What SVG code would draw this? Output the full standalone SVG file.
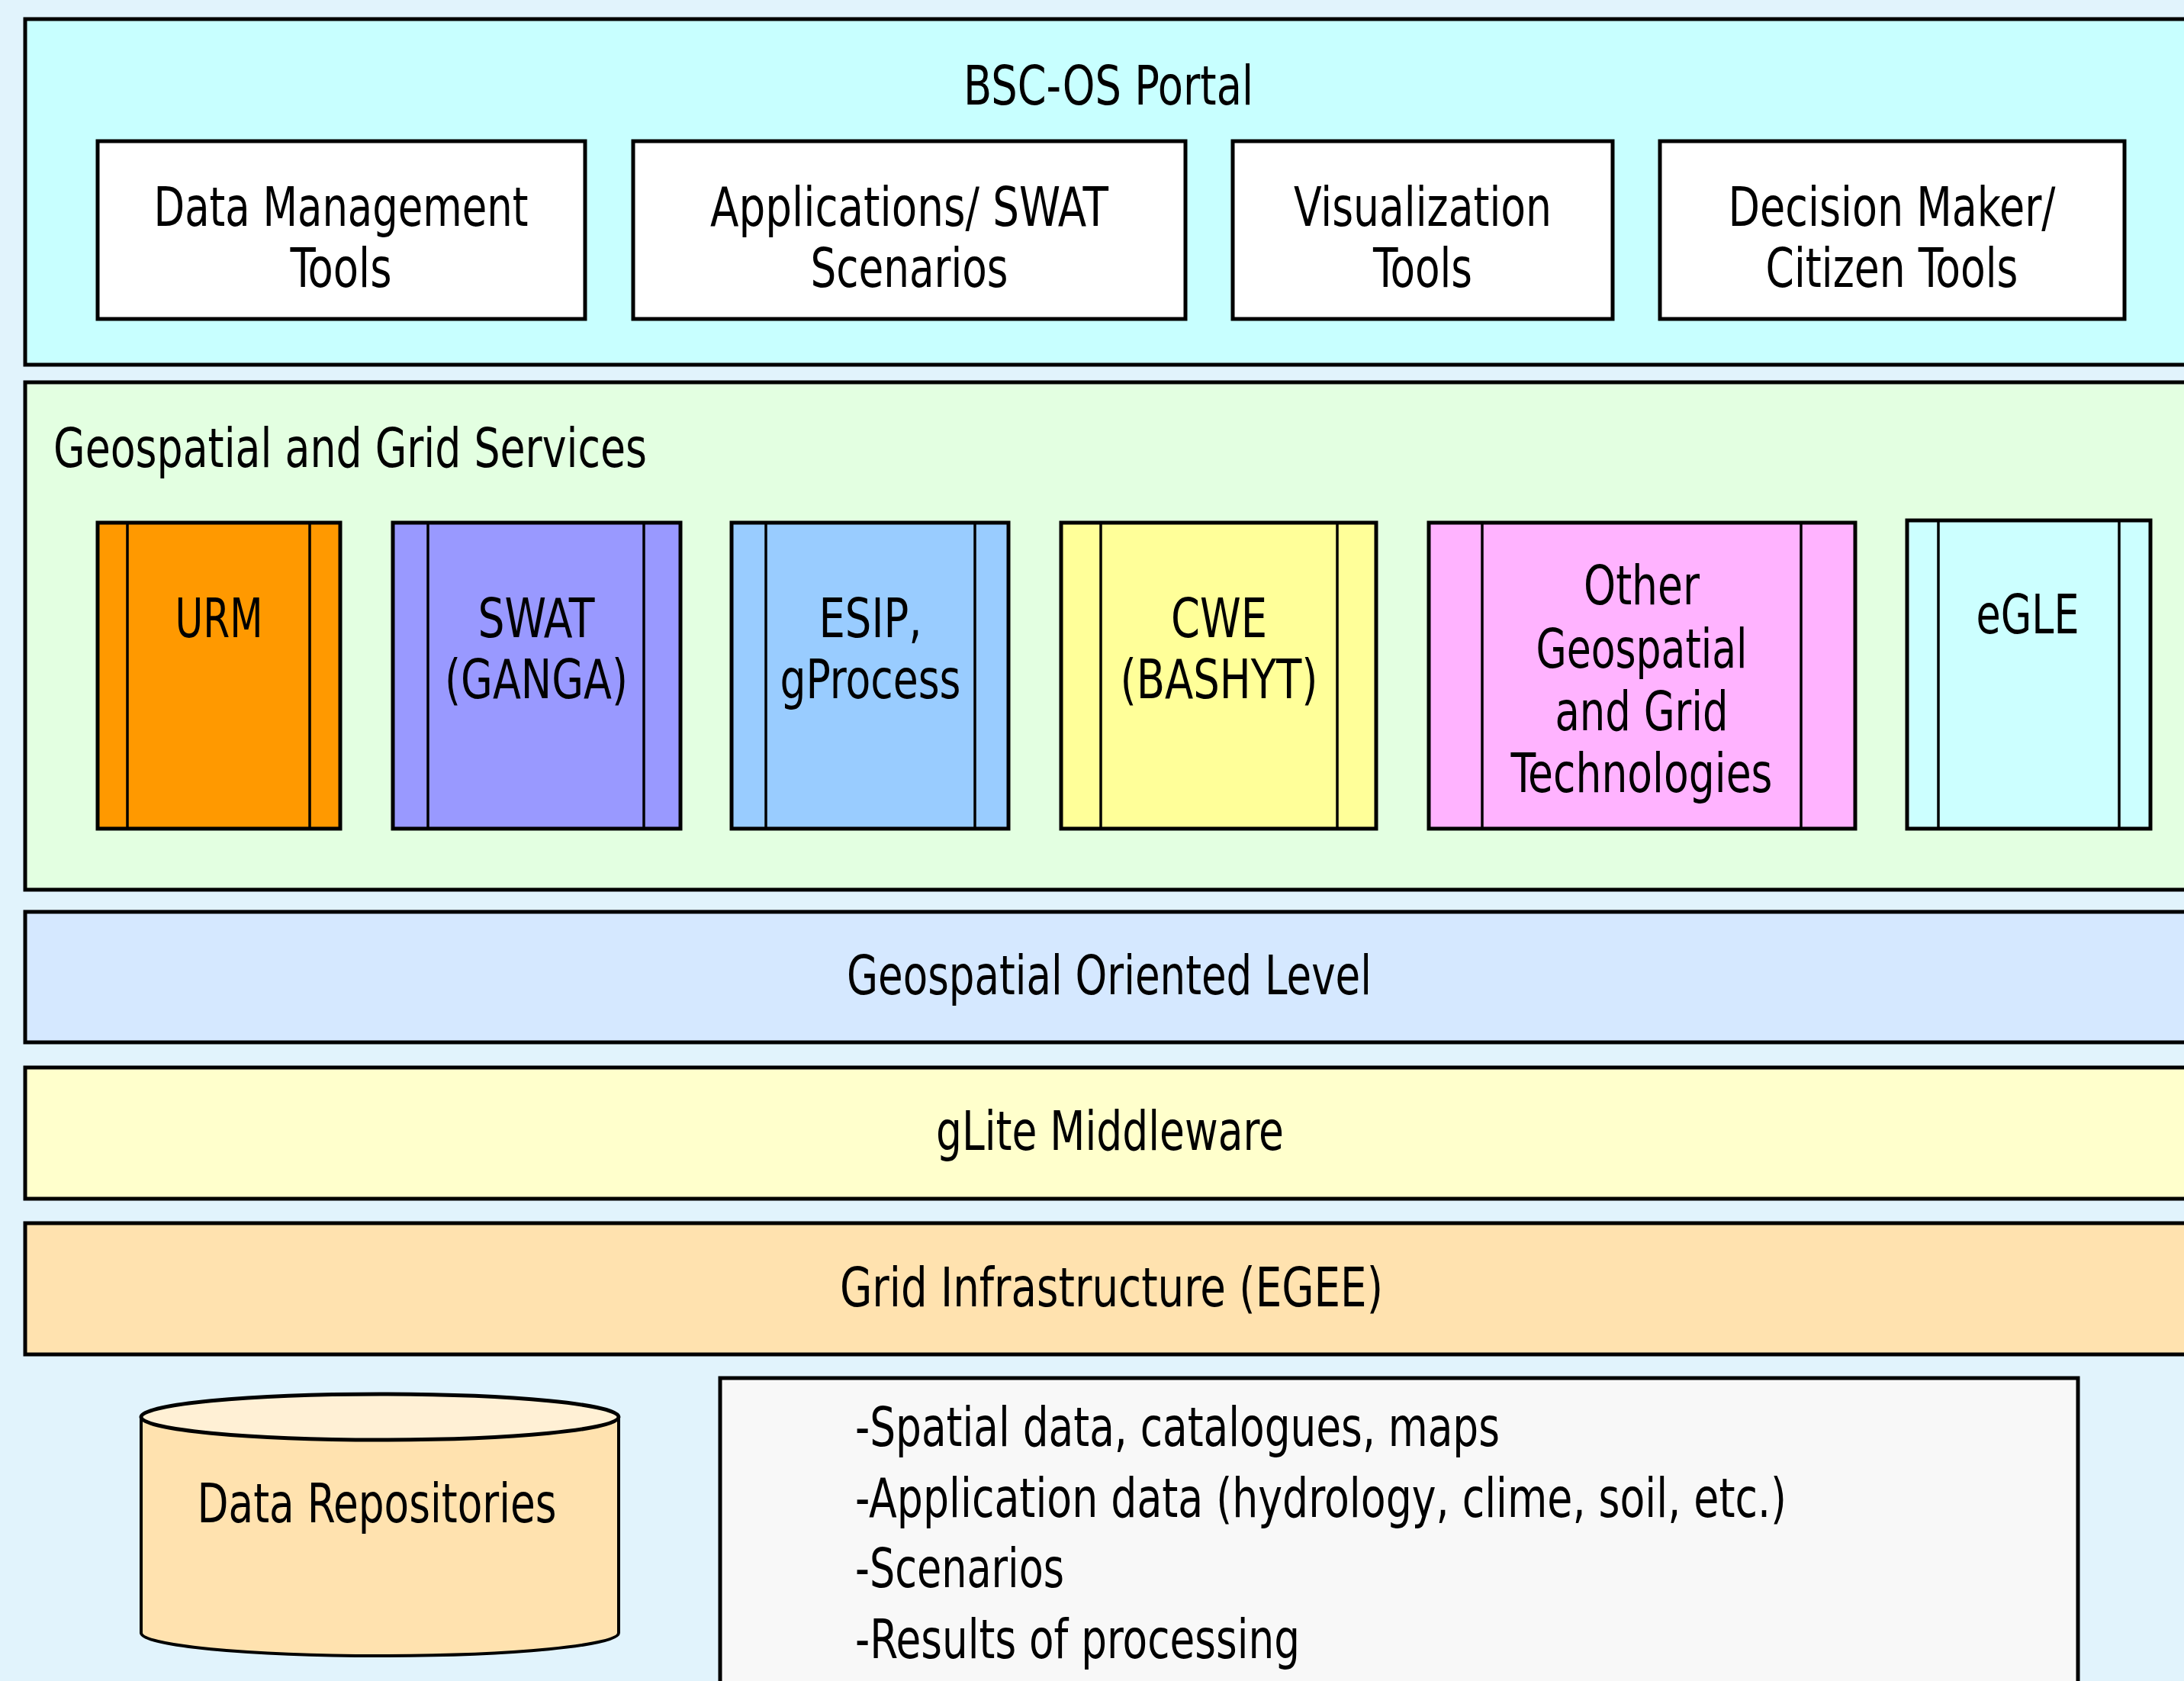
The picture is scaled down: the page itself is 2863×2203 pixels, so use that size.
<svg xmlns="http://www.w3.org/2000/svg" width="2863" height="2203" viewBox="0 0 2863 2203">
<style>
.t{font-family:'DejaVu Sans Condensed','DejaVu Sans',sans-serif;font-size:71px;fill:#000}
.m{text-anchor:middle}
.b{stroke:#000;stroke-width:5}
.i{stroke:#000;stroke-width:3.5;fill:none}
</style>
<rect x="0" y="0" width="2863" height="2203" fill="#E1F3FC"/>
<g id="portal">
<rect class="b" x="33" y="25" width="2900" height="453" fill="#C8FFFF"/>
<text class="t m" x="1453" y="137" textLength="380" lengthAdjust="spacingAndGlyphs">BSC-OS Portal</text>
</g>
<g id="data-management-tools">
<rect class="b" x="128" y="185" width="639" height="233" fill="#FFFFFF"/>
<text class="t m" x="447" y="296" textLength="491" lengthAdjust="spacingAndGlyphs">Data Management</text>
<text class="t m" x="447" y="376" textLength="133" lengthAdjust="spacingAndGlyphs">Tools</text>
</g>
<g id="applications-swat">
<rect class="b" x="830" y="185" width="724" height="233" fill="#FFFFFF"/>
<text class="t m" x="1192" y="296" textLength="522" lengthAdjust="spacingAndGlyphs">Applications/ SWAT</text>
<text class="t m" x="1192" y="376" textLength="259" lengthAdjust="spacingAndGlyphs">Scenarios</text>
</g>
<g id="visualization-tools">
<rect class="b" x="1616" y="185" width="498" height="233" fill="#FFFFFF"/>
<text class="t m" x="1865" y="296" textLength="338" lengthAdjust="spacingAndGlyphs">Visualization</text>
<text class="t m" x="1865" y="376" textLength="130" lengthAdjust="spacingAndGlyphs">Tools</text>
</g>
<g id="decision-maker">
<rect class="b" x="2176" y="185" width="609" height="233" fill="#FFFFFF"/>
<text class="t m" x="2480" y="296" textLength="429" lengthAdjust="spacingAndGlyphs">Decision Maker/</text>
<text class="t m" x="2480" y="376" textLength="331" lengthAdjust="spacingAndGlyphs">Citizen Tools</text>
</g>
<g id="geospatial-grid-services">
<rect class="b" x="33" y="501" width="2900" height="665" fill="#E3FFE1"/>
<text class="t" x="70" y="612" textLength="778" lengthAdjust="spacingAndGlyphs">Geospatial and Grid Services</text>
</g>
<g id="urm">
<rect class="b" x="128" y="685" width="318" height="401" fill="#FF9900"/>
<line class="i" x1="167" y1="685" x2="167" y2="1086"/>
<line class="i" x1="406" y1="685" x2="406" y2="1086"/>
<text class="t m" x="287" y="835" textLength="115" lengthAdjust="spacingAndGlyphs">URM</text>
</g>
<g id="swat-ganga">
<rect class="b" x="515" y="685" width="377" height="401" fill="#9999FF"/>
<line class="i" x1="561" y1="685" x2="561" y2="1086"/>
<line class="i" x1="844" y1="685" x2="844" y2="1086"/>
<text class="t m" x="703" y="835" textLength="153" lengthAdjust="spacingAndGlyphs">SWAT</text>
<text class="t m" x="703" y="915" textLength="240" lengthAdjust="spacingAndGlyphs">(GANGA)</text>
</g>
<g id="esip-gprocess">
<rect class="b" x="959" y="685" width="363" height="401" fill="#99CCFF"/>
<line class="i" x1="1004" y1="685" x2="1004" y2="1086"/>
<line class="i" x1="1278" y1="685" x2="1278" y2="1086"/>
<text class="t m" x="1141" y="835" textLength="135" lengthAdjust="spacingAndGlyphs">ESIP,</text>
<text class="t m" x="1141" y="915" textLength="237" lengthAdjust="spacingAndGlyphs">gProcess</text>
</g>
<g id="cwe-bashyt">
<rect class="b" x="1391" y="685" width="413" height="401" fill="#FFFF99"/>
<line class="i" x1="1443" y1="685" x2="1443" y2="1086"/>
<line class="i" x1="1753" y1="685" x2="1753" y2="1086"/>
<text class="t m" x="1598" y="835" textLength="126" lengthAdjust="spacingAndGlyphs">CWE</text>
<text class="t m" x="1598" y="915" textLength="259" lengthAdjust="spacingAndGlyphs">(BASHYT)</text>
</g>
<g id="other-technologies">
<rect class="b" x="1873" y="685" width="559" height="401" fill="#FFB3FF"/>
<line class="i" x1="1943" y1="685" x2="1943" y2="1086"/>
<line class="i" x1="2361" y1="685" x2="2361" y2="1086"/>
<text class="t m" x="2152" y="792" textLength="152" lengthAdjust="spacingAndGlyphs">Other</text>
<text class="t m" x="2152" y="875" textLength="277" lengthAdjust="spacingAndGlyphs">Geospatial</text>
<text class="t m" x="2152" y="957" textLength="227" lengthAdjust="spacingAndGlyphs">and Grid</text>
<text class="t m" x="2152" y="1038" textLength="343" lengthAdjust="spacingAndGlyphs">Technologies</text>
</g>
<g id="egle">
<rect class="b" x="2500" y="682" width="319" height="404" fill="#CCFFFF"/>
<line class="i" x1="2541" y1="682" x2="2541" y2="1086"/>
<line class="i" x1="2778" y1="682" x2="2778" y2="1086"/>
<text class="t m" x="2658" y="830" textLength="135" lengthAdjust="spacingAndGlyphs">eGLE</text>
</g>
<g id="geospatial-oriented-level">
<rect class="b" x="33" y="1195" width="2900" height="171" fill="#D5E8FF"/>
<text class="t m" x="1454" y="1303" textLength="688" lengthAdjust="spacingAndGlyphs">Geospatial Oriented Level</text>
</g>
<g id="glite-middleware">
<rect class="b" x="33" y="1399" width="2900" height="172" fill="#FFFFCC"/>
<text class="t m" x="1455" y="1507" textLength="456" lengthAdjust="spacingAndGlyphs">gLite Middleware</text>
</g>
<g id="grid-infrastructure">
<rect class="b" x="33" y="1603" width="2900" height="172" fill="#FFE2AF"/>
<text class="t m" x="1457" y="1712" textLength="712" lengthAdjust="spacingAndGlyphs">Grid Infrastructure (EGEE)</text>
</g>
<g id="data-repositories">
<path d="M185,1857 L185,2140 A313,30 0 0 0 811,2140 L811,1857 Z" fill="#FFE2AF" stroke="#000" stroke-width="4"/>
<ellipse cx="498" cy="1857" rx="313" ry="30" fill="#FFF0D5" stroke="#000" stroke-width="5"/>
<text class="t m" x="494" y="1995" textLength="471" lengthAdjust="spacingAndGlyphs">Data Repositories</text>
</g>
<g id="data-list">
<rect class="b" x="944" y="1806" width="1780" height="420" fill="#F8F8F8"/>
<text class="t" x="1121" y="1895" textLength="845" lengthAdjust="spacingAndGlyphs">-Spatial data, catalogues, maps</text>
<text class="t" x="1121" y="1988" textLength="1221" lengthAdjust="spacingAndGlyphs">-Application data (hydrology, clime, soil, etc.)</text>
<text class="t" x="1121" y="2080" textLength="274" lengthAdjust="spacingAndGlyphs">-Scenarios</text>
<text class="t" x="1121" y="2173" textLength="583" lengthAdjust="spacingAndGlyphs">-Results of processing</text>
</g>
<g id="connectors"/>
</svg>
